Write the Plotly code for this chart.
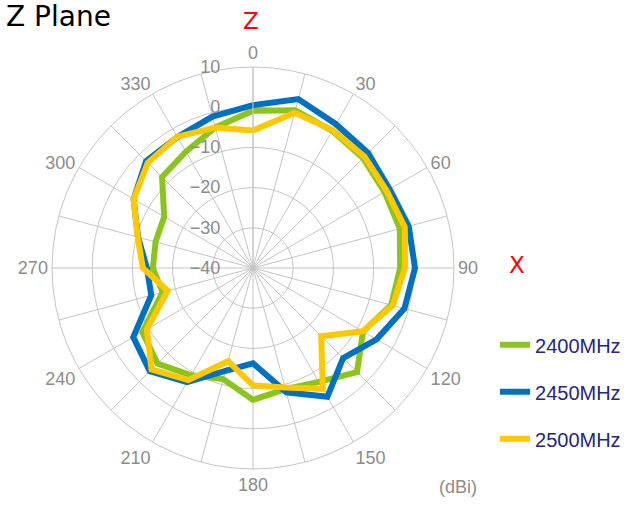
import plotly.graph_objects as go

# Angles (deg) and gain values (dBi)
angles = [0, 15, 30, 45, 60, 75, 90, 105, 120, 135, 150, 165,
          180, 195, 210, 225, 240, 255, 270, 285, 300, 315, 330, 345]

gain_2400 = [-0.9, 0.6, -0.6, -1.3, -2.2, -2.2, -3.4, -4.4, -8.4, -3.4, -7.3, -8.8,
             -7.2, -11.4, -9.2, -6.4, -8.2, -16.7, -15.1, -14.9, -14.5, -8.0, -6.6, -3.8]
gain_2450 = [0.5, 3.5, 1.3, 0.5, -0.8, 0.1, 0.3, -1.0, -4.5, -8.3, -3.0, -8.0,
             -16.3, -13.5, -7.2, -3.7, -5.6, -13.8, -13.6, -10.4, -5.7, -2.4, -2.4, -1.0]
gain_2500 = [-5.8, 0.0, -0.4, -0.8, -1.6, -0.9, -2.2, -4.0, -8.5, -16.0, -5.3, -9.2,
             -10.8, -16.0, -7.8, -4.3, -9.5, -18.0, -12.6, -10.3, -5.7, -3.0, -2.3, -3.8]

series = [("2400MHz", gain_2400, "#8cc41e"),
          ("2450MHz", gain_2450, "#0070c0"),
          ("2500MHz", gain_2500, "#ffc800")]

radial_ticks = [-40, -30, -20, -10, 0, 10]

W, H = 629, 505

fig = go.Figure()
for name, vals, col in series:
    # close the loop
    fig.add_trace(go.Scatterpolar(
        r=vals + vals[:1], theta=angles + angles[:1], mode="lines", name=name,
        line=dict(color=col, width=6), legendgroup=name))

grid = "#c4c4c4"
tick_font = dict(family="Liberation Sans, Arial", size=18, color="#8c8c8c")


def note(text, x, y, size, color, family="DejaVu Sans", xanchor="center"):
    # x, y in pixels from the top-left corner
    return dict(text=text, x=x / W, y=1 - y / H, xref="paper", yref="paper",
                showarrow=False, xanchor=xanchor, yanchor="middle",
                font=dict(family=family, size=size, color=color))


fig.update_layout(
    width=W, height=H,
    margin=dict(l=0, r=0, t=0, b=0),
    paper_bgcolor="white",
    showlegend=True,
    legend=dict(x=0.787, y=0.356, xanchor="left", yanchor="top",
                font=dict(family="Liberation Sans, Arial", size=20, color="#262680"),
                tracegroupgap=18, traceorder="grouped", bgcolor="rgba(0,0,0,0)"),
    polar=dict(
        domain=dict(x=[52 / W, 454 / W], y=[1 - 469 / H, 1 - 67 / H]),
        bgcolor="white",
        angularaxis=dict(rotation=90, direction="clockwise",
                         tickvals=angles,
                         ticktext=[str(a) if a % 30 == 0 else "" for a in angles],
                         tickfont=tick_font, gridcolor=grid, linecolor=grid,
                         showline=True, ticks=""),
        radialaxis=dict(range=[-40, 10], tickvals=radial_ticks, angle=90,
                        side="counterclockwise", tickangle=90, tickfont=tick_font,
                        gridcolor=grid, linecolor=grid, showline=True,
                        ticks="outside", ticklen=26, tickcolor="rgba(0,0,0,0)"),
    ),
    annotations=[
        note("Z Plane", 4, 16, 28, "black", xanchor="left"),
        note("Z", 251, 21, 23, "red"),
        note("X", 517, 265, 23, "red"),
        note("(dBi)", 458, 487, 18, "#8c8c8c", family="Liberation Sans, Arial"),
    ],
)

fig.write_html("out.html", config={"displayModeBar": False},
               post_script="document.body.style.margin='0';")
